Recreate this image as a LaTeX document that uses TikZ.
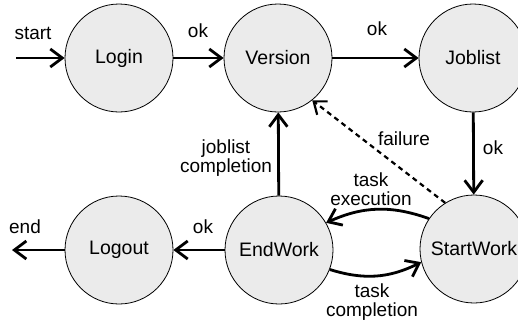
\documentclass[tikz,border=0pt]{standalone}
\usepackage{fontspec}
\setmainfont{Liberation Sans}
\usetikzlibrary{arrows.meta}
\definecolor{nodefill}{RGB}{235,235,235}
\begin{document}
\begin{tikzpicture}[x=1pt,y=-1pt,
  state/.style={circle,draw=black,line width=0.8pt,fill=nodefill,minimum size=108pt,inner sep=0pt,font=\fontsize{19.5}{17}\selectfont},
  edge/.style={line width=2.8pt,-{Straight Barb[length=12pt,width=18pt]}},
  lbl/.style={font=\fontsize{19}{19}\selectfont,align=center,inner sep=0pt}]
\useasboundingbox (0,0) rectangle (518,324);
\clip (0,0) rectangle (518,324);
\node[state] (login) at (119,58) {Login};
\node[state] (version) at (278,58) {Version};
\node[state] (joblist) at (473,58) {Joblist};
\node[state] (logout) at (119,250) {Logout};
\node[state] (endwork) at (279,250) {EndWork};
\node[state] (startwork) at (474,249) {StartWork};
\coordinate (s) at (16,58);
\coordinate (e) at (12,250);
\draw[edge] (s) -- (login);
\draw[edge] (login) -- (version);
\draw[edge] (version) -- (joblist);
\draw[edge] (joblist) -- (startwork);
\draw[edge,line width=2.2pt,dash pattern=on 5pt off 4pt,-{Straight Barb[length=11pt,width=17pt]}] (startwork.122) -- (version.-51);
\draw[edge] (endwork) -- (version);
\draw[edge] (startwork.146) to[bend right=22] (endwork.30);
\draw[edge] (endwork.-21) to[bend right=22] (startwork.-166);
\draw[edge] (endwork) -- (logout);
\draw[edge] (logout) -- (e);
\node[lbl] (l1) at (33,33) {start};
\node[lbl] (l2) at (198,31) {ok};
\node[lbl] (l3) at (377,29) {ok};
\node[lbl] (l4) at (493,148) {ok};
\node[lbl] (l5) at (404,139) {failure};
\node[lbl] (l6) at (226,158) {joblist\\completion};
\node[lbl] (l7) at (371,189) {task\\execution};
\node[lbl] (l8) at (372,302) {task\\completion};
\node[lbl] (l9) at (203,227) {ok};
\node[lbl] (l10) at (25,227) {end};
\end{tikzpicture}
\end{document}
